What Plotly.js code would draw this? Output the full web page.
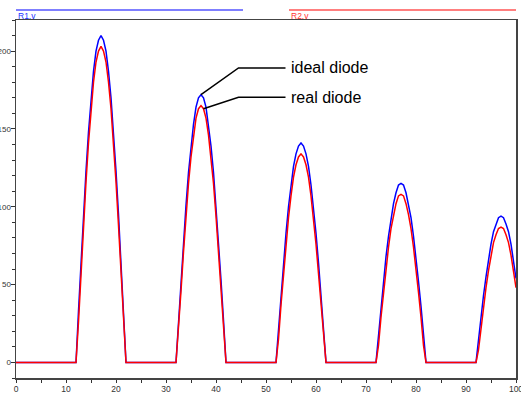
<!DOCTYPE html>
<html>
<head>
<meta charset="utf-8">
<script src="https://cdn.plot.ly/plotly-3.0.1.min.js"></script>
<style>
  html, body { margin: 0; padding: 0; background: #ffffff; }
  #chart { width: 521px; height: 394px; }
</style>
</head>
<body>
<div id="chart"></div>
<script>
// Half-wave rectifier transient: voltage across the load for an ideal
// diode (R1.v) and a real diode with forward drop (R2.v).

// Sample times (s) shared by both traces
const time = [
  0, 12, 12.5, 13, 13.5, 14, 14.5, 15, 15.5, 16, 16.5, 17, 17.5, 18, 18.5, 19, 19.5, 20, 20.5, 21, 21.5, 22,
  32, 32.5, 33, 33.5, 34, 34.5, 35, 35.5, 36, 36.5, 37, 37.5, 38, 38.5, 39, 39.5, 40, 40.5, 41, 41.5, 42,
  52, 52.5, 53, 53.5, 54, 54.5, 55, 55.5, 56, 56.5, 57, 57.5, 58, 58.5, 59, 59.5, 60, 60.5, 61, 61.5, 62,
  72, 72.5, 73, 73.5, 74, 74.5, 75, 75.5, 76, 76.5, 77, 77.5, 78, 78.5, 79, 79.5, 80, 80.5, 81, 81.5, 82,
  92, 92.5, 93, 93.5, 94, 94.5, 95, 95.5, 96, 96.5, 97, 97.5, 98, 98.5, 99, 99.5, 100
];

// R1.v — ideal diode
const idealV = [
  0, 0, 33, 65, 95, 123, 148, 170, 187, 200, 207, 210, 207, 200, 187, 170, 148, 123, 95, 65, 33, 0,
  0, 27, 53, 78, 101, 122, 139, 153, 164, 170, 172, 170, 164, 153, 139, 122, 101, 78, 53, 27, 0,
  0, 22, 44, 64, 83, 100, 114, 126, 134, 139, 141, 139, 134, 126, 114, 100, 83, 64, 44, 22, 0,
  0, 18, 36, 52, 68, 81, 93, 102, 109, 114, 115, 114, 109, 102, 93, 81, 68, 52, 36, 18, 0,
  0, 15, 29, 43, 55, 66, 76, 84, 89, 93, 94, 93, 89, 84, 76, 66, 54
];

// R2.v — real diode
const realV = [
  0, 0, 26, 58, 88, 116, 141, 163, 180, 193, 200, 203, 200, 193, 180, 163, 141, 116, 88, 58, 26, 0,
  0, 20, 46, 71, 94, 115, 132, 146, 157, 163, 165, 163, 157, 146, 132, 115, 94, 71, 46, 20, 0,
  0, 15, 37, 57, 76, 93, 107, 119, 127, 132, 134, 132, 127, 119, 107, 93, 76, 57, 37, 15, 0,
  0, 11, 29, 45, 61, 74, 86, 95, 102, 107, 108, 107, 102, 95, 86, 74, 61, 45, 29, 11, 0,
  0, 8, 22, 36, 48, 59, 69, 77, 82, 86, 87, 86, 82, 77, 69, 59, 48
];

// Axis tick values and labels
const xTicks = [0, 10, 20, 30, 40, 50, 60, 70, 80, 90, 100];
const xTickLabels = ['0', '10', '20', '30', '40', '50', '60', '70', '80', '90', '100'];
const yTicks = [0, 50, 100, 150, 200];
const yTickLabels = ['0', '50', '100', '150', '200'];

// Series names and callout texts
const seriesNames = ['R1.v', 'R2.v'];
const calloutTexts = ['ideal diode', 'real diode'];

const BLUE = '#0000ff';
const RED = '#ff0000';

// Point each callout at the crest of the second pulse of its trace
function crestIndex(values, tFrom, tTo) {
  let best = -1;
  for (let i = 0; i < time.length; i++) {
    if (time[i] < tFrom || time[i] > tTo) continue;
    if (best < 0 || values[i] > values[best]) best = i;
  }
  return best;
}
const iTip = crestIndex(idealV, 32, 42);
const idealTip = { x: time[iTip], y: idealV[iTip] };
const realTip = { x: time[iTip + 1], y: realV[iTip + 1] };

const traces = [
  { x: time, y: idealV, type: 'scatter', mode: 'lines', name: seriesNames[0],
    line: { color: BLUE, width: 1.5 }, hoverinfo: 'none' },
  { x: time, y: realV, type: 'scatter', mode: 'lines', name: seriesNames[1],
    line: { color: RED, width: 1.5 }, hoverinfo: 'none' }
];

const xAxisFont = { family: 'Liberation Sans, Arial, sans-serif', size: 8.5, color: '#333333' };
const yAxisFont = { family: 'Liberation Sans, Arial, sans-serif', size: 8, color: '#333333' };

const layout = {
  width: 521,
  height: 394,
  margin: { l: 16, r: 5, t: 20, b: 16 },
  paper_bgcolor: '#ffffff',
  plot_bgcolor: '#ffffff',
  showlegend: false,
  xaxis: {
    range: [0, 100],
    showgrid: false,
    zeroline: false,
    showline: true,
    mirror: true,
    linecolor: '#444444',
    linewidth: 1.5,
    ticks: 'outside',
    ticklen: 3,
    tickwidth: 1,
    tickcolor: '#333333',
    tickvals: xTicks,
    ticktext: xTickLabels,
    tickfont: xAxisFont,
    ticklabeloverflow: 'allow',
    ticklabelstandoff: -1,
    minor: { dtick: 5, ticks: 'outside', ticklen: 3, tickcolor: '#333333', showgrid: false }
  },
  yaxis: {
    range: [-10, 220],
    showgrid: false,
    zeroline: false,
    showline: true,
    mirror: true,
    linecolor: '#444444',
    linewidth: 1.5,
    ticks: 'outside',
    ticklen: 4,
    tickwidth: 1,
    tickcolor: '#333333',
    tickvals: yTicks,
    ticktext: yTickLabels,
    tickfont: yAxisFont,
    ticklabeloverflow: 'allow',
    ticklabelstandoff: -2,
    minor: { dtick: 10, ticks: 'outside', ticklen: 3, tickcolor: '#333333', showgrid: false }
  },
  shapes: [
    // series keys along the top
    { type: 'line', xref: 'paper', yref: 'paper', x0: 0, x1: 0.454, y0: 1.028, y1: 1.028,
      line: { color: BLUE, width: 1.2 } },
    { type: 'line', xref: 'paper', yref: 'paper', x0: 0.546, x1: 1, y0: 1.028, y1: 1.028,
      line: { color: RED, width: 1.2 } },
    // callout leaders
    { type: 'path', xref: 'x', yref: 'y',
      path: `M 53.9,189.2 L 44.5,189.2 L ${idealTip.x},${idealTip.y}`,
      line: { color: '#000000', width: 1.5 } },
    { type: 'path', xref: 'x', yref: 'y',
      path: `M 53.9,170.3 L 44.5,170.3 L ${realTip.x},${realTip.y}`,
      line: { color: '#000000', width: 1.5 } }
  ],
  annotations: [
    { xref: 'paper', yref: 'paper', x: 0, y: 1.03, xanchor: 'left', yanchor: 'top',
      text: seriesNames[0], showarrow: false,
      font: { family: 'Liberation Sans, Arial, sans-serif', size: 8.5, color: '#2233ff' } },
    { xref: 'paper', yref: 'paper', x: 0.546, y: 1.03, xanchor: 'left', yanchor: 'top',
      text: seriesNames[1], showarrow: false,
      font: { family: 'Liberation Sans, Arial, sans-serif', size: 8.5, color: '#ff3333' } },
    { xref: 'x', yref: 'y', x: 54.5, y: 189.5, xanchor: 'left', yanchor: 'middle',
      text: calloutTexts[0], showarrow: false,
      font: { family: 'Liberation Sans, Arial, sans-serif', size: 16, color: '#000000' } },
    { xref: 'x', yref: 'y', x: 54.5, y: 170.5, xanchor: 'left', yanchor: 'middle',
      text: calloutTexts[1], showarrow: false,
      font: { family: 'Liberation Sans, Arial, sans-serif', size: 16, color: '#000000' } }
  ]
};

Plotly.newPlot('chart', traces, layout, { staticPlot: true, displayModeBar: false });
</script>
</body>
</html>
